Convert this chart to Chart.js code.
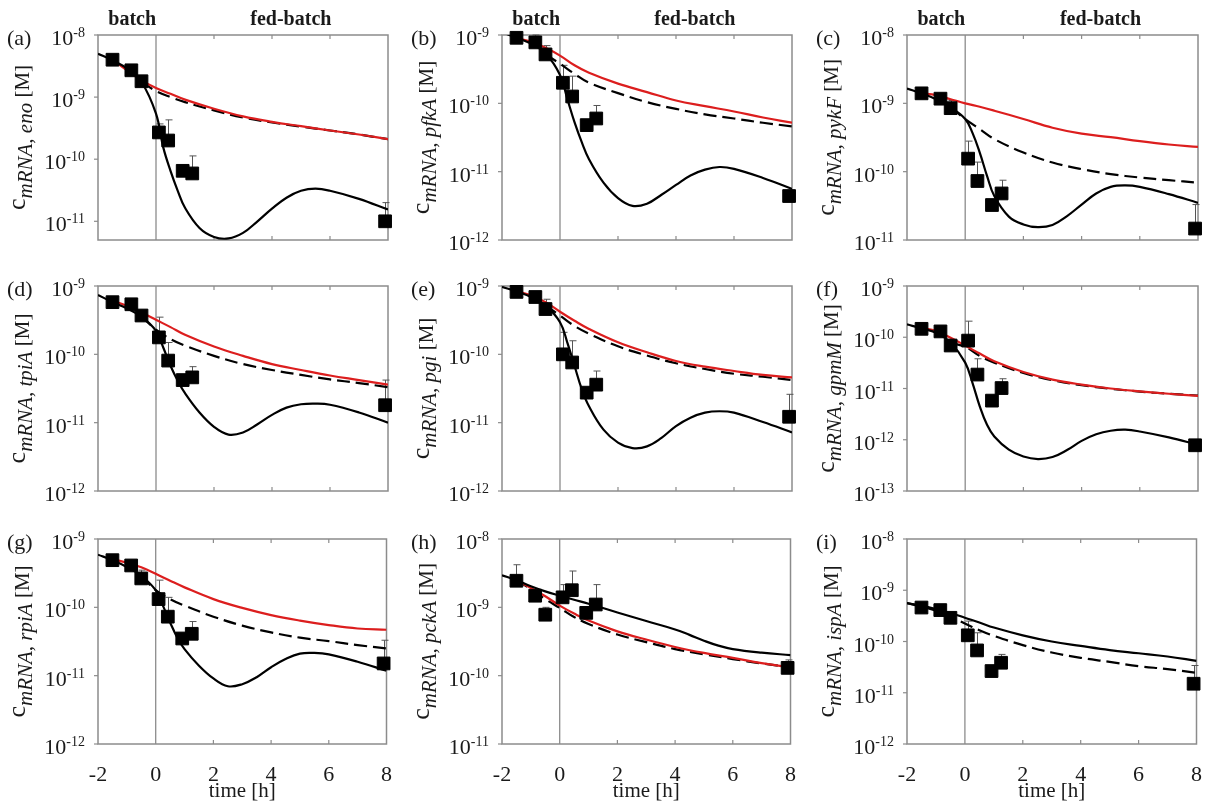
<!DOCTYPE html>
<html><head><meta charset="utf-8">
<script src="https://cdn.jsdelivr.net/npm/chart.js@4.4.1/dist/chart.umd.min.js"></script>
<style>
html,body{margin:0;padding:0;background:#fff;overflow:hidden;width:1205px;height:805px;position:relative;}
canvas{position:absolute;}
</style></head><body>
<script>
// ---------- time grids ----------
const tFine   = [-2,-1.5,-1,-0.5,0,0.25,0.5,0.75,1,1.5,2,2.5,3,3.5,4,4.5,5,5.5,6,7,8];
const tRed    = [-1.5,-1,-0.5,0,0.5,1,2,3,4,5,6,7,8];
const tDash   = [-0.5,0,0.5,1,2,3,4,5,6,7,8];
const tCoarse = [-2,-1.5,-1,-0.5,0,0.5,1,2,3,4,5,6,7,8];
const tH      = [-2,-1.5,-1,-0.5,0,0.5,1,2,3,4,4.5,5,5.5,6,7,8];
const timeData = [-1.5,-0.85,-0.5,0.1,0.42,0.92,1.25,7.9];
const xTicks = [-2,0,2,4,6,8];
const phaseLabels = ['batch','fed-batch'];
const phaseAt = [-0.82, 4.65];

// ---------- (a) eno ----------
const a_data  = [4.0e-9,2.7e-9,1.8e-9,2.7e-10,2.0e-10,6.5e-11,5.9e-11,1.0e-11];
const a_errHi = [null,null,null,3.7e-10,4.3e-10,null,1.13e-10,2.0e-11];
const a_solid = [5.0e-9,3.9e-9,2.9e-9,1.75e-9,5.4e-10,1.55e-10,6.5e-11,3.1e-11,1.65e-11,7.8e-12,5.6e-12,5.3e-12,6.5e-12,1.0e-11,1.6e-11,2.4e-11,3.1e-11,3.35e-11,3.1e-11,2.3e-11,1.55e-11];
const a_dash  = [1.75e-9,1.25e-9,1.0e-9,8.3e-10,6.1e-10,4.7e-10,3.9e-10,3.35e-10,2.9e-10,2.5e-10,2.1e-10];
const a_red   = [4.0e-9,2.7e-9,1.86e-9,1.4e-9,1.13e-9,9.1e-10,6.5e-10,4.9e-10,4.0e-10,3.4e-10,2.9e-10,2.5e-10,2.1e-10];
// ---------- (b) pfkA ----------
const b_data  = [9.1e-10,7.8e-10,5.2e-10,2.0e-10,1.26e-10,4.8e-11,6.0e-11,4.4e-12];
const b_errHi = [null,1.0e-9,7.0e-10,3.6e-10,2.5e-10,null,9.3e-11,null];
const b_solid = [1.1e-9,9.1e-10,7.5e-10,5.4e-10,2.6e-10,1.17e-10,5.3e-11,2.7e-11,1.52e-11,6.9e-12,4.1e-12,3.15e-12,3.4e-12,4.6e-12,6.4e-12,8.8e-12,1.07e-11,1.17e-11,1.1e-11,8.1e-12,5.6e-12];
const b_dash  = [5.2e-10,3.8e-10,2.7e-10,2.0e-10,1.41e-10,1.04e-10,8.3e-11,6.9e-11,6.0e-11,5.2e-11,4.6e-11];
const b_red   = [9.0e-10,8.0e-10,6.5e-10,5.0e-10,3.6e-10,2.8e-10,1.94e-10,1.46e-10,1.1e-10,9.1e-11,7.6e-11,6.2e-11,5.2e-11];
// ---------- (c) pykF ----------
const c_data  = [1.4e-9,1.17e-9,8.5e-10,1.55e-10,7.3e-11,3.25e-11,4.8e-11,1.47e-11];
const c_errHi = [null,null,1.1e-9,2.8e-10,1.38e-10,null,7.5e-11,3.3e-11];
const c_solid = [1.65e-9,1.4e-9,1.15e-9,8.7e-10,5.9e-10,3.7e-10,1.9e-10,8.7e-11,4.4e-11,2.2e-11,1.69e-11,1.54e-11,1.66e-11,2.24e-11,3.3e-11,4.8e-11,6.0e-11,6.3e-11,6.0e-11,4.7e-11,3.5e-11];
const c_dash  = [8.7e-10,5.9e-10,4.2e-10,3.0e-10,1.91e-10,1.36e-10,1.09e-10,9.2e-11,8.2e-11,7.5e-11,6.9e-11];
const c_red   = [1.4e-9,1.32e-9,1.15e-9,1.0e-9,8.9e-10,7.8e-10,5.9e-10,4.4e-10,3.6e-10,3.2e-10,2.8e-10,2.5e-10,2.3e-10];
// ---------- (d) tpiA ----------
const d_data  = [5.8e-10,5.4e-10,3.7e-10,1.77e-10,8.1e-11,4.2e-11,4.6e-11,1.8e-11];
const d_errHi = [null,null,4.4e-10,3.5e-10,1.49e-10,null,6.6e-11,4.2e-11];
const d_solid = [7.4e-10,5.8e-10,4.7e-10,3.55e-10,2.2e-10,1.26e-10,6.8e-11,4.1e-11,2.7e-11,1.41e-11,8.7e-12,6.7e-12,7.2e-12,9.5e-12,1.3e-11,1.66e-11,1.86e-11,1.9e-11,1.83e-11,1.41e-11,1.0e-11];
const d_dash  = [3.55e-10,2.3e-10,1.67e-10,1.34e-10,9.5e-11,7.2e-11,5.9e-11,5.0e-11,4.3e-11,3.8e-11,3.3e-11];
const d_red   = [6.1e-10,5.1e-10,4.1e-10,3.2e-10,2.5e-10,1.93e-10,1.3e-10,9.5e-11,7.2e-11,5.9e-11,4.9e-11,4.2e-11,3.6e-11];
// ---------- (e) pgi ----------
const e_data  = [8.2e-10,6.9e-10,4.6e-10,1.0e-10,7.6e-11,2.75e-11,3.6e-11,1.22e-11];
const e_errHi = [null,null,6.4e-10,2.1e-10,1.58e-10,null,5.7e-11,2.6e-11];
const e_solid = [9.7e-10,8.3e-10,6.9e-10,5.2e-10,2.95e-10,1.5e-10,6.8e-11,3.1e-11,1.74e-11,7.9e-12,5.1e-12,4.25e-12,4.5e-12,6.0e-12,8.9e-12,1.18e-11,1.4e-11,1.47e-11,1.4e-11,1.02e-11,7.2e-12];
const e_dash  = [5.2e-10,3.7e-10,2.6e-10,2.0e-10,1.31e-10,9.6e-11,7.4e-11,6.1e-11,5.2e-11,4.7e-11,4.2e-11];
const e_red   = [8.4e-10,7.3e-10,5.8e-10,4.2e-10,3.1e-10,2.35e-10,1.5e-10,1.07e-10,8.0e-11,6.6e-11,5.7e-11,5.0e-11,4.6e-11];
// ---------- (f) gpmM ----------
const f_data  = [1.46e-10,1.3e-10,6.9e-11,8.6e-11,1.87e-11,5.8e-12,1.02e-11,7.8e-13];
const f_errHi = [null,null,9.0e-11,2.06e-10,3.8e-11,null,1.55e-11,null];
const f_solid = [1.78e-10,1.49e-10,1.22e-10,7.8e-11,3.2e-11,1.29e-11,4.5e-12,1.96e-12,1.16e-12,6.4e-13,4.7e-13,4.2e-13,4.6e-13,6.3e-13,9.5e-13,1.28e-12,1.5e-12,1.57e-12,1.45e-12,1.11e-12,8.0e-13];
const f_dash  = [7.8e-11,6.5e-11,4.3e-11,3.2e-11,2.0e-11,1.45e-11,1.16e-11,9.9e-12,8.7e-12,7.9e-12,7.3e-12];
const f_red   = [1.53e-10,1.32e-10,9.8e-11,6.9e-11,4.8e-11,3.4e-11,2.1e-11,1.49e-11,1.19e-11,1.0e-11,8.8e-12,7.9e-12,7.2e-12];
// ---------- (g) rpiA ----------
const g_data  = [4.9e-10,4.1e-10,2.65e-10,1.32e-10,7.3e-11,3.5e-11,4.1e-11,1.51e-11];
const g_errHi = [null,null,3.5e-10,2.5e-10,1.4e-10,null,6.2e-11,3.3e-11];
const g_solid = [5.9e-10,4.9e-10,3.9e-10,2.9e-10,1.78e-10,1.06e-10,6.0e-11,3.6e-11,2.45e-11,1.4e-11,9.1e-12,7.0e-12,7.5e-12,9.5e-12,1.33e-11,1.75e-11,2.1e-11,2.15e-11,2.05e-11,1.6e-11,1.18e-11];
const g_dash  = [2.9e-10,1.78e-10,1.32e-10,1.06e-10,7.3e-11,5.4e-11,4.3e-11,3.6e-11,3.2e-11,2.8e-11,2.5e-11];
const g_red   = [5.1e-10,4.5e-10,3.85e-10,3.1e-10,2.45e-10,1.96e-10,1.32e-10,9.8e-11,7.7e-11,6.4e-11,5.5e-11,4.9e-11,4.7e-11];
// ---------- (h) pckA ----------
const h_data  = [2.45e-9,1.48e-9,7.8e-10,1.4e-9,1.78e-9,8.3e-10,1.1e-9,1.3e-10];
const h_errHi = [4.2e-9,1.7e-9,1.0e-9,2.15e-9,3.4e-9,9.5e-10,2.15e-9,1.7e-10];
const h_solid = [2.95e-9,2.5e-9,2.03e-9,1.71e-9,1.48e-9,1.29e-9,1.13e-9,8.4e-10,6.3e-10,4.75e-10,3.95e-10,3.25e-10,2.75e-10,2.45e-10,2.17e-10,2.0e-10];
const h_dash  = [2.5e-9,1.85e-9,1.32e-9,9.8e-10,7.2e-10,5.7e-10,4.0e-10,3.1e-10,2.45e-10,2.05e-10,1.75e-10,1.51e-10,1.32e-10];
const h_red   = [2.5e-9,1.92e-9,1.45e-9,1.06e-9,8.1e-10,6.4e-10,4.45e-10,3.37e-10,2.63e-10,2.15e-10,1.82e-10,1.53e-10,1.32e-10];
// ---------- (i) ispA ----------
const i_data  = [4.6e-10,4.1e-10,2.9e-10,1.32e-10,6.7e-11,2.65e-11,3.85e-11,1.5e-11];
const i_errHi = [null,4.5e-10,null,2.5e-10,1.48e-10,null,5.6e-11,3.4e-11];
const i_solid = [5.6e-10,5.0e-10,4.3e-10,3.6e-10,2.9e-10,2.35e-10,1.87e-10,1.32e-10,1.0e-10,8.2e-11,6.8e-11,5.9e-11,5.1e-11,4.2e-11];
const i_dash  = [5.6e-10,4.8e-10,4.0e-10,3.1e-10,2.25e-10,1.66e-10,1.29e-10,8.5e-11,6.1e-11,4.8e-11,4.0e-11,3.3e-11,2.9e-11,2.45e-11];

// ---------- panel table ----------
const panels = [
 {tag:'(a)', gene:'eno',  col:0,row:0, yMin:5e-12, yMax:1e-8, data:a_data, errHi:a_errHi, solid:[tFine,a_solid],   dash:[tDash,a_dash],   red:[tRed,a_red]},
 {tag:'(b)', gene:'pfkA', col:1,row:0, yMin:1e-12, yMax:1e-9, data:b_data, errHi:b_errHi, solid:[tFine,b_solid],   dash:[tDash,b_dash],   red:[tRed,b_red]},
 {tag:'(c)', gene:'pykF', col:2,row:0, yMin:1e-11, yMax:1e-8, data:c_data, errHi:c_errHi, solid:[tFine,c_solid],   dash:[tDash,c_dash],   red:[tRed,c_red]},
 {tag:'(d)', gene:'tpiA', col:0,row:1, yMin:1e-12, yMax:1e-9, data:d_data, errHi:d_errHi, solid:[tFine,d_solid],   dash:[tDash,d_dash],   red:[tRed,d_red]},
 {tag:'(e)', gene:'pgi',  col:1,row:1, yMin:1e-12, yMax:1e-9, data:e_data, errHi:e_errHi, solid:[tFine,e_solid],   dash:[tDash,e_dash],   red:[tRed,e_red]},
 {tag:'(f)', gene:'gpmM', col:2,row:1, yMin:1e-13, yMax:1e-9, data:f_data, errHi:f_errHi, solid:[tFine,f_solid],   dash:[tDash,f_dash],   red:[tRed,f_red]},
 {tag:'(g)', gene:'rpiA', col:0,row:2, yMin:1e-12, yMax:1e-9, data:g_data, errHi:g_errHi, solid:[tFine,g_solid],   dash:[tDash,g_dash],   red:[tRed,g_red]},
 {tag:'(h)', gene:'pckA', col:1,row:2, yMin:1e-11, yMax:1e-8, data:h_data, errHi:h_errHi, solid:[tH,h_solid],      dash:[tRed,h_dash],    red:[tRed,h_red]},
 {tag:'(i)', gene:'ispA', col:2,row:2, yMin:1e-12, yMax:1e-8, data:i_data, errHi:i_errHi, solid:[tCoarse,i_solid], dash:[tCoarse,i_dash], red:null}
];

// ---------- layout ----------
const colL = [98, 502, 907], colR = [388, 792, 1198];
const rowT = [35, 286, 539], rowB = [240, 491, 744];
const LEFTM = 100, TOPM = 30, RIGHTM = 14;
const SERIF = '"Liberation Serif","Times New Roman","DejaVu Serif",serif';
const INK = '#1a1a1a', FRAME = '#8c8c8c', RED = '#dc1e1e';
function decades(min, max){
  const out = [];
  for (let e = Math.ceil(Math.log10(min) - 1e-9); e <= Math.floor(Math.log10(max) + 1e-9); e++) out.push(Number('1e' + e));
  return out;
}
const pts = (xs, ys) => xs.map((x, k) => ({x: x, y: ys[k]}));

function makeDecor(p){
  return {
    id: 'decor',
    beforeDatasetsDraw(chart){
      const ctx = chart.ctx, a = chart.chartArea;
      const xs = chart.scales.x, ys = chart.scales.y;
      ctx.save();
      ctx.strokeStyle = FRAME; ctx.lineWidth = 1.5;
      ctx.strokeRect(a.left, a.top, a.right - a.left, a.bottom - a.top);
      const x0 = xs.getPixelForValue(0);
      ctx.lineWidth = 1.3;
      ctx.beginPath(); ctx.moveTo(x0, a.top); ctx.lineTo(x0, a.bottom); ctx.stroke();
      ctx.lineWidth = 1.2;
      xTicks.forEach(v => {
        if (v <= -2 || v >= 8 || v === 0) return;
        const x = xs.getPixelForValue(v);
        ctx.beginPath();
        ctx.moveTo(x, a.top); ctx.lineTo(x, a.top + 4);
        ctx.moveTo(x, a.bottom); ctx.lineTo(x, a.bottom - 4);
        ctx.stroke();
      });
      ys.ticks.forEach(tk => {
        const y = ys.getPixelForValue(tk.value);
        ctx.beginPath(); ctx.moveTo(a.left - 4, y); ctx.lineTo(a.left, y); ctx.stroke();
      });
      ctx.strokeStyle = '#555'; ctx.lineWidth = 1;
      p.errHi.forEach((hi, k) => {
        if (hi == null) return;
        const x = Math.round(xs.getPixelForValue(timeData[k])) + 0.5;
        const y0 = ys.getPixelForValue(p.data[k]);
        const y1 = ys.getPixelForValue(hi);
        ctx.beginPath();
        ctx.moveTo(x, y0); ctx.lineTo(x, y1);
        ctx.moveTo(x - 3, y1); ctx.lineTo(x + 4, y1);
        ctx.stroke();
      });
      ctx.restore();
    },
    afterDraw(chart){
      const ctx = chart.ctx, a = chart.chartArea, xs = chart.scales.x, ys = chart.scales.y;
      ctx.save();
      ctx.fillStyle = INK;
      ctx.textAlign = 'left'; ctx.textBaseline = 'alphabetic';
      ys.ticks.forEach(tk => {
        const y = ys.getPixelForValue(tk.value);
        const ex = String(Math.round(Math.log10(tk.value)));
        ctx.font = '14px ' + SERIF; const we = ctx.measureText(ex).width;
        ctx.font = '22px ' + SERIF; const wb = ctx.measureText('10').width;
        const right = a.left - 13, base = y + 10;
        ctx.fillText('10', right - we - wb, base);
        ctx.font = '14px ' + SERIF;
        ctx.fillText(ex, right - we, base - 8);
      });
      ctx.font = '22px ' + SERIF;
      ctx.fillText(p.tag, a.left - 91, a.top + 10);
      if (p.row === 0) {
        ctx.font = 'bold 20px ' + SERIF;
        ctx.textAlign = 'center'; ctx.textBaseline = 'middle';
        phaseLabels.forEach((s, k) => ctx.fillText(s, xs.getPixelForValue(phaseAt[k]), a.top - 15));
      }
      const parts = [
        {t:'c',      f:'26px ' + SERIF,        dy:0},
        {t:'mRNA, ', f:'italic 21px ' + SERIF, dy:7},
        {t:p.gene,   f:'italic 21px ' + SERIF, dy:7},
        {t:' [M]',   f:'21px ' + SERIF,        dy:4}
      ];
      let total = 0;
      parts.forEach(q => { ctx.font = q.f; q.w = ctx.measureText(q.t).width; total += q.w; });
      ctx.translate(a.left - 73, (a.top + a.bottom) / 2);
      ctx.rotate(-Math.PI / 2);
      ctx.textAlign = 'left'; ctx.textBaseline = 'alphabetic';
      let x = -total / 2;
      parts.forEach(q => { ctx.font = q.f; ctx.fillText(q.t, x, q.dy); x += q.w; });
      ctx.restore();
    }
  };
}

Chart.defaults.font.family = SERIF;
Chart.defaults.color = INK;

panels.forEach(p => {
  const plotL = colL[p.col], plotR = colR[p.col], plotT = rowT[p.row], plotB = rowB[p.row];
  const bottomM = p.row === 2 ? 60 : 12;
  const W = (plotR - plotL) + LEFTM + RIGHTM;
  const H = TOPM + (plotB - plotT) + bottomM;
  const cv = document.createElement('canvas');
  cv.width = W; cv.height = H;
  cv.style.left = (plotL - LEFTM) + 'px'; cv.style.top = (plotT - TOPM) + 'px';
  cv.style.width = W + 'px'; cv.style.height = H + 'px';
  document.body.appendChild(cv);

  const curve = {pointRadius:0, borderWidth:2.2, tension:0.4, cubicInterpolationMode:'default', fill:false};
  const datasets = [
    {label:'data', data: pts(timeData, p.data), showLine:false, pointStyle:'rect', pointRadius:9,
     pointBackgroundColor:'#000', pointBorderColor:'#000', pointBorderWidth:1, clip:false},
    Object.assign({label:'model', data: pts(p.solid[0], p.solid[1]), borderColor:'#000'}, curve)
  ];
  if (p.red) datasets.push(Object.assign({label:'red', data: pts(p.red[0], p.red[1]), borderColor:RED}, curve));
  datasets.push(Object.assign({label:'dashed', data: pts(p.dash[0], p.dash[1]), borderColor:'#000', borderDash:[13,6]}, curve));

  new Chart(cv, {
    type: 'line',
    data: { datasets },
    options: {
      responsive: false, animation: false, devicePixelRatio: 1,
      layout: { padding: { top: TOPM, right: RIGHTM, left: 0, bottom: 0 } },
      plugins: { legend: {display:false}, tooltip: {enabled:false} },
      scales: {
        x: {
          type: 'linear', min: -2, max: 8,
          grid: { display:false }, border: { display:false },
          afterBuildTicks: s => { s.ticks = xTicks.map(v => ({value: v})); },
          afterFit: s => { s.height = bottomM; },
          ticks: { display: p.row === 2, padding: 10, maxRotation: 0, autoSkip: false,
                   font: { size: 22, family: SERIF }, color: INK,
                   callback: v => String(v) },
          title: { display: p.row === 2, text: 'time [h]', font: { size: 21, family: SERIF },
                   color: INK, padding: { top: 0, bottom: 0 } }
        },
        y: {
          type: 'logarithmic', min: p.yMin, max: p.yMax,
          grid: { display:false }, border: { display:false },
          afterBuildTicks: s => { s.ticks = decades(p.yMin, p.yMax).map(v => ({value: v})); },
          afterFit: s => { s.width = LEFTM; },
          ticks: { display: false }
        }
      }
    },
    plugins: [makeDecor(p)]
  });
});
</script>
</body></html>
